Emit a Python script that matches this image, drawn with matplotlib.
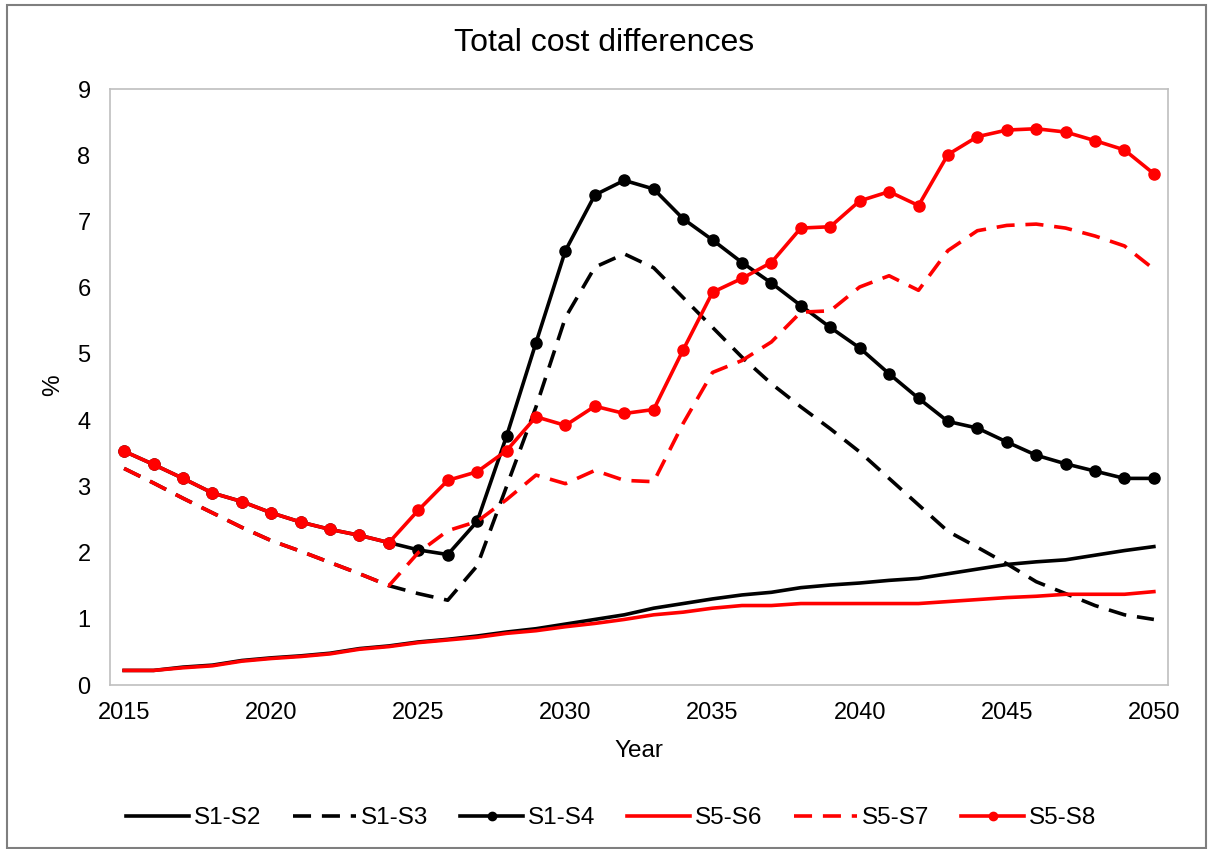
import matplotlib
matplotlib.use("Agg")
import matplotlib.pyplot as plt
from matplotlib.patches import Rectangle

plt.rcParams["font.family"] = ["Liberation Sans", "DejaVu Sans"]

years = list(range(2015, 2051))

s1_s2 = [0.22, 0.22, 0.27, 0.30, 0.37, 0.41, 0.44, 0.48, 0.55, 0.59,
         0.65, 0.69, 0.74, 0.80, 0.85, 0.92, 0.99, 1.06, 1.16, 1.23,
         1.30, 1.36, 1.40, 1.47, 1.51, 1.54, 1.58, 1.61, 1.68, 1.75,
         1.82, 1.86, 1.89, 1.96, 2.03, 2.09]
s1_s3 = [3.27, 3.05, 2.82, 2.60, 2.38, 2.18, 2.02, 1.85, 1.68, 1.50,
         1.38, 1.28, 1.80, 3.00, 4.20, 5.55, 6.31, 6.51, 6.30, 5.85,
         5.40, 4.95, 4.55, 4.20, 3.87, 3.52, 3.12, 2.72, 2.32, 2.08,
         1.83, 1.56, 1.38, 1.20, 1.06, 0.99]
s1_s4 = [3.53, 3.33, 3.12, 2.90, 2.77, 2.60, 2.46, 2.35, 2.26, 2.15,
         2.04, 1.97, 2.47, 3.76, 5.17, 6.56, 7.40, 7.62, 7.49, 7.04,
         6.72, 6.38, 6.07, 5.73, 5.40, 5.09, 4.70, 4.33, 3.98, 3.88,
         3.67, 3.47, 3.34, 3.23, 3.12, 3.12]
s5_s6 = [0.22, 0.22, 0.26, 0.29, 0.36, 0.40, 0.43, 0.47, 0.54, 0.58,
         0.64, 0.68, 0.72, 0.78, 0.82, 0.88, 0.93, 0.99, 1.06, 1.10,
         1.16, 1.20, 1.20, 1.23, 1.23, 1.23, 1.23, 1.23, 1.26, 1.29,
         1.32, 1.34, 1.37, 1.37, 1.37, 1.41]
s5_s7 = [3.27, 3.05, 2.82, 2.60, 2.38, 2.18, 2.02, 1.85, 1.68, 1.50,
         2.00, 2.33, 2.47, 2.80, 3.17, 3.04, 3.24, 3.09, 3.07, 3.95,
         4.72, 4.90, 5.18, 5.63, 5.65, 6.01, 6.18, 5.96, 6.56, 6.86,
         6.94, 6.96, 6.90, 6.78, 6.63, 6.28]
s5_s8 = [3.53, 3.33, 3.12, 2.90, 2.77, 2.60, 2.46, 2.35, 2.26, 2.15,
         2.64, 3.09, 3.22, 3.54, 4.05, 3.92, 4.21, 4.10, 4.16, 5.06,
         5.93, 6.14, 6.38, 6.90, 6.92, 7.31, 7.45, 7.24, 8.01, 8.28,
         8.38, 8.40, 8.35, 8.22, 8.08, 7.72]

series = [
    ("S1-S2", s1_s2, "black", "-", None),
    ("S1-S3", s1_s3, "black", "--", None),
    ("S1-S4", s1_s4, "black", "-", "o"),
    ("S5-S6", s5_s6, "#ff0000", "-", None),
    ("S5-S7", s5_s7, "#ff0000", "--", None),
    ("S5-S8", s5_s8, "#ff0000", "-", "o"),
]

W, H = 1208, 849
fig = plt.figure(figsize=(W / 100, H / 100), dpi=100)
ax = fig.add_axes([110 / W, 1 - 685 / H, (1168 - 110) / W, (685 - 89) / H])

for name, vals, color, ls, marker in series:
    line, = ax.plot(years, vals, color=color, linestyle=ls, linewidth=2.6,
                    marker=marker, markersize=8, label=name)
    if ls == "--":
        line.set_dashes((5, 3))

ax.set_xlim(2014.52, 2050.48)
ax.set_ylim(0, 9)
ax.set_xticks(range(2015, 2051, 5))
ax.set_yticks(range(0, 10))
ax.tick_params(length=0, labelsize=17)
ax.tick_params(axis="x", pad=12)
ax.tick_params(axis="y", pad=14)
for sp in ax.spines.values():
    sp.set_color("#bfbfbf")
    sp.set_linewidth(1.2)

fig.text(0.5, 1 - 43 / H, "Total cost differences", ha="center", va="center",
         fontsize=23)
fig.text(639 / W, 1 - 751 / H, "Year", ha="center", va="center", fontsize=17.5)
fig.text(53 / W, 1 - 385 / H, "%", ha="center", va="center", rotation=90,
         fontsize=17.5)

fig.legend(loc="center", bbox_to_anchor=(0.506, 1 - 818 / H), ncol=6,
           frameon=False, fontsize=17.5, handlelength=2.6, handletextpad=0.2,
           columnspacing=1.3, markerscale=0.75)

fig.patches.append(Rectangle((7 / W, 1 / H), (W - 9) / W, (H - 6) / H,
                             transform=fig.transFigure, fill=False,
                             edgecolor="#7f7f7f", linewidth=1.5))

fig.savefig("out.png", dpi=100)
